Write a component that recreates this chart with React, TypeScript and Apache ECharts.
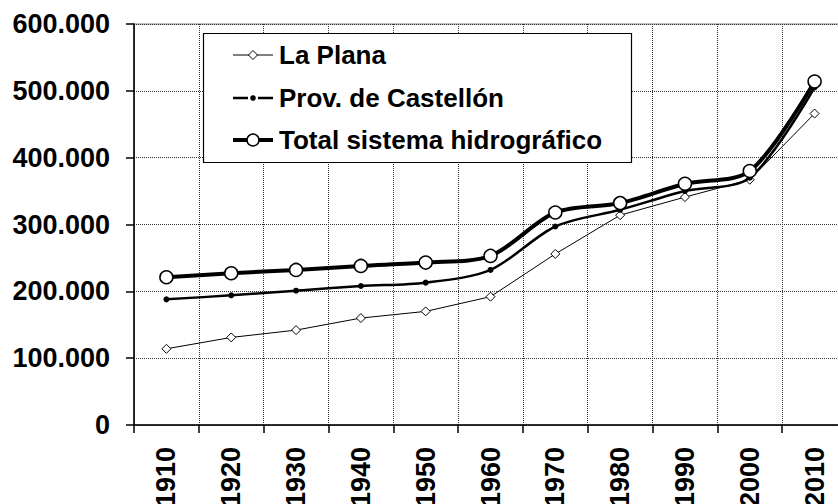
import React, { useEffect, useRef } from "react";
import * as echarts from "echarts";

const categories = ["1910", "1920", "1930", "1940", "1950", "1960", "1970", "1980", "1990", "2000", "2010"];
const laPlana = [114000, 131000, 142000, 160000, 170000, 192000, 256000, 314000, 341000, 367000, 466000];
const provCastellon = [188000, 194000, 201000, 208000, 213000, 232000, 297000, 322000, 350000, 370000, 505000];
const totalSistema = [221000, 227000, 232000, 238000, 243000, 253000, 318000, 332000, 361000, 380000, 514000];
const seriesNames = ["La Plana", "Prov. de Castellón", "Total sistema hidrográfico"];

const FONT = "'Liberation Sans', Arial, sans-serif";

export default function App() {
  const ref = useRef<HTMLDivElement>(null);
  useEffect(() => {
    if (!ref.current) return;
    const chart = echarts.init(ref.current, null, { renderer: "svg" });

    // legend drawn as graphic elements
    const lx = 203.5, ly = 33.5, lw = 428, lh = 129;
    const rows = [55, 98, 140];
    const ix0 = 233, ix1 = 273, icx = 253, tx = 279;
    const Z = 100;
    const text = (t: string, y: number) => ({
      type: "text",
      z: Z + 2,
      x: tx,
      y,
      style: {
        text: t,
        fill: "#000",
        font: `bold 26px ${FONT}`,
        verticalAlign: "middle",
        align: "left",
      },
    });
    const legendGraphic = [
      {
        type: "rect",
        z: Z,
        shape: { x: lx, y: ly, width: lw, height: lh },
        style: { fill: "#fff", stroke: "#000", lineWidth: 1.2 },
      },
      { type: "line", z: Z + 1, shape: { x1: ix0, y1: rows[0], x2: ix1, y2: rows[0] }, style: { stroke: "#000", lineWidth: 1 } },
      {
        type: "polygon",
        z: Z + 2,
        shape: { points: [[icx, rows[0] - 4.5], [icx + 4.5, rows[0]], [icx, rows[0] + 4.5], [icx - 4.5, rows[0]]] },
        style: { fill: "#fff", stroke: "#000", lineWidth: 1 },
      },
      text(seriesNames[0], rows[0]),
      { type: "line", z: Z + 1, shape: { x1: ix0, y1: rows[1], x2: icx - 5, y2: rows[1] }, style: { stroke: "#000", lineWidth: 2.5 } },
      { type: "line", z: Z + 1, shape: { x1: icx + 5, y1: rows[1], x2: ix1, y2: rows[1] }, style: { stroke: "#000", lineWidth: 2.5 } },
      { type: "circle", z: Z + 2, shape: { cx: icx, cy: rows[1], r: 2.8 }, style: { fill: "#000" } },
      text(seriesNames[1], rows[1]),
      { type: "line", z: Z + 1, shape: { x1: ix0, y1: rows[2], x2: ix1, y2: rows[2] }, style: { stroke: "#000", lineWidth: 4 } },
      { type: "circle", z: Z + 2, shape: { cx: icx, cy: rows[2], r: 6 }, style: { fill: "#fff", stroke: "#000", lineWidth: 1.5 } },
      text(seriesNames[2], rows[2]),
    ];

    chart.setOption({
      animation: false,
      backgroundColor: "#fff",
      grid: {
        left: 134,
        top: 24,
        right: -9,
        bottom: 79,
        containLabel: false,
        outerBoundsMode: "none",
        show: true,
        borderColor: "#808080",
        borderWidth: 1,
        backgroundColor: "transparent",
      },
      graphic: legendGraphic,
      xAxis: {
        type: "category",
        data: categories,
        boundaryGap: true,
        axisLine: { lineStyle: { color: "#000", width: 1.5 } },
        axisTick: { show: true, length: 8, lineStyle: { color: "#000", width: 1.5 } },
        axisLabel: {
          rotate: 90,
          margin: 22,
          fontFamily: FONT,
          fontWeight: "bold",
          fontSize: 27,
          color: "#000",
        },
        splitLine: { show: true, lineStyle: { color: "#333", type: "dotted", width: 1 } },
      },
      yAxis: {
        type: "value",
        min: 0,
        max: 600000,
        interval: 100000,
        axisLine: { show: true, lineStyle: { color: "#000", width: 1.5 } },
        axisTick: { show: true, length: 8, lineStyle: { color: "#000", width: 1.5 } },
        axisLabel: {
          margin: 24,
          fontFamily: FONT,
          fontWeight: "bold",
          fontSize: 27,
          color: "#000",
          formatter: (v: number) => (v === 0 ? "0" : `${v / 1000}.000`),
        },
        splitLine: { show: true, lineStyle: { color: "#333", type: "dotted", width: 1 } },
      },
      series: [
        {
          name: seriesNames[0],
          type: "line",
          data: laPlana,
          symbol: "diamond",
          symbolSize: 9,
          lineStyle: { color: "#000", width: 1 },
          itemStyle: { color: "#fff", borderColor: "#000", borderWidth: 1 },
          z: 2,
        },
        {
          name: seriesNames[1],
          type: "line",
          data: provCastellon,
          smooth: 0.3,
          symbol: "circle",
          symbolSize: 6,
          lineStyle: { color: "#000", width: 2.5 },
          itemStyle: { color: "#000", borderColor: "#000", borderWidth: 0 },
          z: 3,
        },
        {
          name: seriesNames[2],
          type: "line",
          data: totalSistema,
          smooth: 0.3,
          symbol: "circle",
          symbolSize: 13,
          lineStyle: { color: "#000", width: 4 },
          itemStyle: { color: "#fff", borderColor: "#000", borderWidth: 1.5 },
          z: 4,
        },
      ],
    });
    return () => chart.dispose();
  }, []);
  return (
    <div
      ref={ref}
      style={{ position: "fixed", left: 0, top: 0, width: 838, height: 504, background: "#fff" }}
    />
  );
}
